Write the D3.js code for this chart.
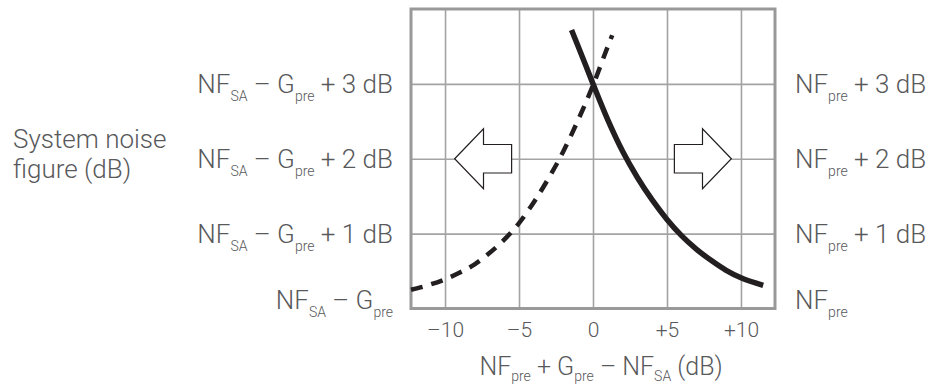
<html>
<head>
  <script type="text/javascript" src="https://cdn.jsdelivr.net/npm/d3@7/dist/d3.min.js"></script>
  <style>
  body { margin: 0; background: #fff; }
  text { font-family: Roboto, "Liberation Sans", sans-serif; font-weight: 300; fill: #58595b; }
  </style>
</head>
<body>

<script type="text/javascript">
// x: NF_pre + G_pre - NF_SA (dB), y: system NF above the lower bound (dB)
var xTicks = [-10, -5, 0, 5, 10];
var yLevels = [0, 1, 2, 3];

// solid: system NF relative to NF_pre
var solidX = [-1.45, -1, 0, 1, 2, 3, 4, 5, 6, 7, 8, 9, 10, 11.5];
var solidY = [3.72, 3.50, 3.00, 2.52, 2.10, 1.75, 1.45, 1.19, 0.97, 0.79, 0.64, 0.51, 0.41, 0.31];

// dashed: system NF relative to NF_SA - G_pre
var dashX = [-12.3, -11, -10, -9, -8, -7, -6, -5, -4, -3, -2, -1, 0, 1, 1.3];
var dashY = [0.25, 0.32, 0.39, 0.48, 0.59, 0.74, 0.92, 1.14, 1.42, 1.74, 2.10, 2.52, 2.98, 3.50, 3.65];

// label parts: [text, subscript?]
var leftLabels = [
  [["NF", 0], ["SA", 1], [" – G", 0], ["pre", 1]],
  [["NF", 0], ["SA", 1], [" – G", 0], ["pre", 1], [" + 1 dB", 0]],
  [["NF", 0], ["SA", 1], [" – G", 0], ["pre", 1], [" + 2 dB", 0]],
  [["NF", 0], ["SA", 1], [" – G", 0], ["pre", 1], [" + 3 dB", 0]]
];
var rightLabels = [
  [["NF", 0], ["pre", 1]],
  [["NF", 0], ["pre", 1], [" + 1 dB", 0]],
  [["NF", 0], ["pre", 1], [" + 2 dB", 0]],
  [["NF", 0], ["pre", 1], [" + 3 dB", 0]]
];
var xTitle = [["NF", 0], ["pre", 1], [" + G", 0], ["pre", 1], [" – NF", 0], ["SA", 1], [" (dB)", 0]];
var yTitle = ["System noise", "figure (dB)"];

// arrows: direction, tip, back of head, end of shaft (x units), centre level
var arrows = [-1, 1];
var arrowTip = 9.35, arrowHead = 7.4, arrowShaft = 5.5, arrowLevel = 2;
var headHalf = 0.4, shaftHalf = 0.19;

var W = 944, H = 385;
var svg = d3.select("body").append("svg").attr("width", W).attr("height", H);

var x = d3.scaleLinear().domain([-12.3, 12.3]).range([411, 775]);
var y = d3.scaleLinear().domain([0, 4]).range([308.5, 9]);

// grid
svg.append("g")
  .attr("transform", "translate(0," + y(0) + ")")
  .call(d3.axisBottom(x).tickValues(xTicks).tickSize(-(y(0) - y(4))).tickFormat(""))
  .call(function(g) {
    g.select(".domain").remove();
    g.selectAll("line").attr("stroke", "#a3a3a3").attr("stroke-width", 1.6);
  });
svg.append("g")
  .attr("transform", "translate(" + x(-12.3) + ",0)")
  .call(d3.axisLeft(y).tickValues(yLevels.slice(1)).tickSize(-(x(12.3) - x(-12.3))).tickFormat(""))
  .call(function(g) {
    g.select(".domain").remove();
    g.selectAll("line").attr("stroke", "#a3a3a3").attr("stroke-width", 1.6);
  });

// frame
svg.append("rect")
  .attr("x", x(-12.3)).attr("y", y(4))
  .attr("width", x(12.3) - x(-12.3)).attr("height", y(0) - y(4))
  .attr("fill", "none").attr("stroke", "#999").attr("stroke-width", 3);

// x tick labels
svg.append("g")
  .attr("transform", "translate(0," + y(0) + ")")
  .call(d3.axisBottom(x).tickValues(xTicks).tickSize(0).tickPadding(0)
    .tickFormat(function(d) { return d > 0 ? "+" + d : d < 0 ? "–" + Math.abs(d) : "0"; }))
  .call(function(g) {
    g.select(".domain").remove();
    g.selectAll("text")
      .attr("dy", null).attr("y", 28)
      .attr("font-size", 21)
      .attr("fill", "#58595b")
      .attr("font-family", null);
  });

// curves
var line = d3.line()
  .x(function(d) { return x(d[0]); })
  .y(function(d) { return y(d[1]); })
  .curve(d3.curveMonotoneX);

svg.append("path")
  .datum(d3.zip(dashX, dashY))
  .attr("d", line)
  .attr("fill", "none")
  .attr("stroke", "#231f20")
  .attr("stroke-width", 4.5)
  .attr("stroke-dasharray", "12,9");

svg.append("path")
  .datum(d3.zip(solidX, solidY))
  .attr("d", line)
  .attr("fill", "none")
  .attr("stroke", "#231f20")
  .attr("stroke-width", 5.5);

// arrows
svg.selectAll(".arrow")
  .data(arrows)
  .enter().append("path")
  .attr("class", "arrow")
  .attr("d", function(dir) {
    var pts = [
      [dir * arrowTip, arrowLevel],
      [dir * arrowHead, arrowLevel + headHalf],
      [dir * arrowHead, arrowLevel + shaftHalf],
      [dir * arrowShaft, arrowLevel + shaftHalf],
      [dir * arrowShaft, arrowLevel - shaftHalf],
      [dir * arrowHead, arrowLevel - shaftHalf],
      [dir * arrowHead, arrowLevel - headHalf]
    ];
    return d3.line().x(function(p) { return x(p[0]); }).y(function(p) { return y(p[1]); })(pts) + "Z";
  })
  .attr("fill", "#fff")
  .attr("stroke", "#231f20")
  .attr("stroke-width", 1.2)
  .attr("stroke-linejoin", "miter");

// text with subscripts
function richText(t, parts, size, subSize, shift) {
  var down = false;
  parts.forEach(function(p) {
    var ts = t.append("tspan").text(p[0]);
    if (p[1]) {
      ts.attr("font-size", subSize).attr("dy", down ? 0 : shift);
      down = true;
    } else {
      ts.attr("font-size", size).attr("dy", down ? -shift : 0);
      down = false;
    }
  });
}

function levelBaseline(v) {
  return Math.min(y(v) + 9, y(0));
}

svg.selectAll(".llab")
  .data(yLevels)
  .enter().append("text")
  .attr("class", "llab")
  .attr("x", 393)
  .attr("y", levelBaseline)
  .attr("text-anchor", "end")
  .each(function(v, i) { richText(d3.select(this), leftLabels[i], 26, 14, 8); });

svg.selectAll(".rlab")
  .data(yLevels)
  .enter().append("text")
  .attr("class", "rlab")
  .attr("x", 795)
  .attr("y", levelBaseline)
  .each(function(v, i) { richText(d3.select(this), rightLabels[i], 26, 14, 8); });

var xt = svg.append("text")
  .attr("x", (x(-12.3) + x(12.3)) / 2 + 8)
  .attr("y", 375)
  .attr("text-anchor", "middle");
richText(xt, xTitle, 25, 14, 6);

svg.selectAll(".ytitle")
  .data(yTitle)
  .enter().append("text")
  .attr("class", "ytitle")
  .attr("x", 13)
  .attr("y", function(d, i) { return 148 + i * 30; })
  .attr("font-size", 26)
  .text(function(d) { return d; });
</script>

</body>
</html>
